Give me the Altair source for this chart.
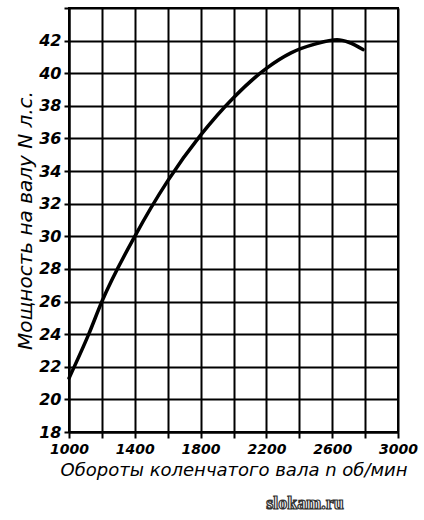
import altair as alt
import pandas as pd

rpm = [1000, 1120, 1200, 1400, 1600, 1800, 2000, 2200, 2350, 2500, 2630, 2700, 2787]
power = [21.3, 24.0, 26.0, 30.0, 33.4, 36.2, 38.5, 40.3, 41.25, 41.8, 42.05, 41.9, 41.45]

x_ticks = list(range(1000, 3001, 200))
y_ticks = list(range(18, 45, 2))

x_title = "Обороты коленчатого вала n об/мин"
y_title = "Мощность на валу N л.с."
watermark = ["slokam.ru"]

df = pd.DataFrame({"rpm": rpm, "power": power})

common = dict(
    labelFont="DejaVu Sans",
    labelFontStyle="italic",
    labelFontWeight="bold",
    titleFont="DejaVu Sans",
    titleFontStyle="italic",
    titleFontWeight="normal",
    tickWidth=2,
    tickColor="black",
    domainColor="black",
    domainWidth=2,
    gridColor="black",
    gridWidth=2,
    gridOpacity=1,
    labelColor="black",
    titleColor="black",
    labelOverlap=False,
    labelBound=False,
    labelFlush=False,
)

line = alt.Chart(df).mark_line(
    color="black", strokeWidth=3.5, interpolate="monotone", strokeCap="round"
).encode(
    x=alt.X(
        "rpm:Q",
        scale=alt.Scale(domain=[1000, 3000], nice=False, zero=False),
        axis=alt.Axis(
            values=x_ticks,
            format="d",
            labelExpr="datum.value % 400 == 200 ? datum.label : ''",
            title=x_title,
            titleFontSize=18,
            titlePadding=5,
            labelFontSize=14,
            labelPadding=4,
            tickSize=6,
            **common,
        ),
    ),
    y=alt.Y(
        "power:Q",
        scale=alt.Scale(domain=[18, 44], nice=False, zero=False),
        axis=alt.Axis(
            values=y_ticks,
            labelExpr="datum.value == 44 ? '' : datum.label",
            title=y_title,
            titleFontSize=20,
            titlePadding=3,
            labelFontSize=16,
            labelPadding=3,
            tickSize=5,
            **common,
        ),
    ),
)

wm = alt.Chart(pd.DataFrame({"t": watermark})).mark_text(
    font="Liberation Serif", fontWeight="bold", fontSize=18,
    fill="white", stroke="#333333", strokeWidth=1.2
).encode(text="t:N", x=alt.value(236), y=alt.value(496))

chart = alt.layer(line, wm).properties(
    width=329, height=424,
    padding={"left": 69, "top": 8, "right": 26, "bottom": 88},
    autosize=alt.AutoSizeParams(type="none"),
    background="white",
).configure_view(stroke="black", strokeWidth=2)

chart.save("out.html", embed_options={"renderer": "svg", "actions": False})
